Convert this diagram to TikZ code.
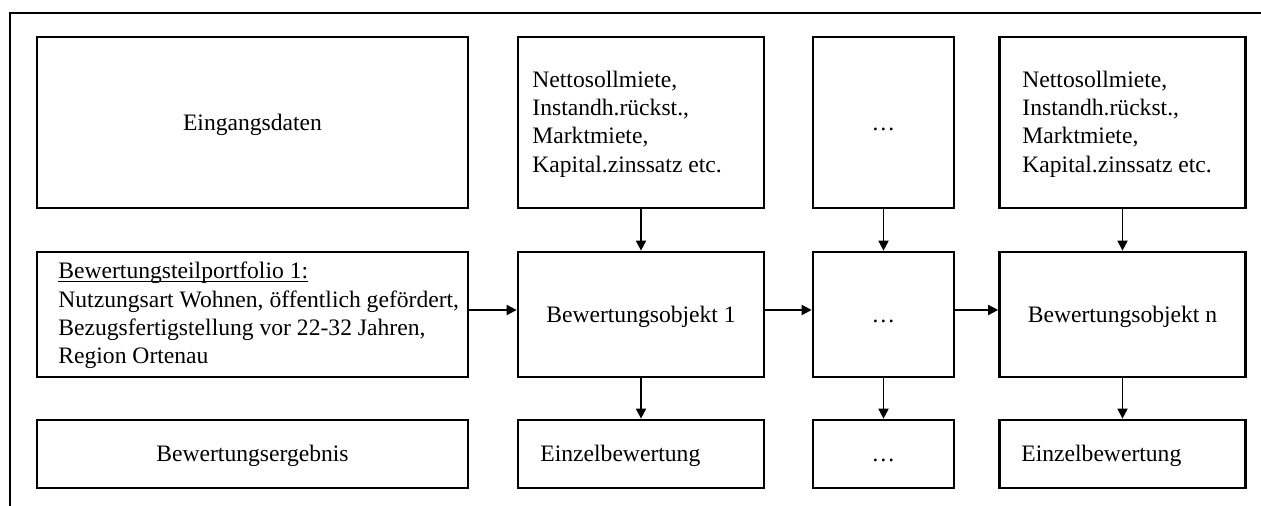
\documentclass[tikz,border=0pt]{standalone}
\usepackage{fontspec}
\setmainfont{Liberation Serif}
\usetikzlibrary{arrows.meta}
% underline that runs close under the baseline, through the descenders
\newcommand\ulword[1]{\setbox0\hbox{#1}\rlap{\rule[-1.6pt]{\wd0}{0.6pt}}\box0}
\begin{document}
\begin{tikzpicture}[x=0.5pt,y=-0.5pt,
  font=\fontsize{11.8pt}{14.15pt}\selectfont,
  box/.style={draw, line width=1.35pt, rectangle, inner sep=0pt,
              text height=10.4pt, text depth=2.6pt},
  toprow/.style={box, minimum height=85.5pt},
  midrow/.style={box, minimum height=62.5pt},
  botrow/.style={box, minimum height=34pt},
  widecol/.style={minimum width=215.5pt},
  objcol/.style={minimum width=123pt},
  dotcol/.style={minimum width=70.5pt},
  txt/.style={anchor=west, align=left, inner sep=0pt},
  txtline/.style={anchor=west, inner sep=0pt, text height=10.4pt, text depth=2.6pt},
  conn/.style={line width=0.9pt, -{Triangle[length=5pt,width=5pt]}}]
\useasboundingbox (0,0) rectangle (1261,506);

% frame (top and left edges)
\draw[line width=1.35pt] (10,510) |- (1265,13);

% input row
\node[toprow, widecol] (a1) at (252.5,122.5) {Eingangsdaten};
\node[toprow, objcol]  (b1) at (641,122.5) {};
\node[txt] (b1t) at (532,124) {Nettosollmiete,\\Instandh.rückst.,\\Marktmiete,\\Kapital.zinssatz etc.};
\node[toprow, dotcol]  (c1) at (883.5,122.5) {…};
\node[toprow, objcol]  (d1) at (1122.5,122.5) {};
\node[txt] (d1t) at (1022,124) {Nettosollmiete,\\Instandh.rückst.,\\Marktmiete,\\Kapital.zinssatz etc.};

% valuation objects
\node[midrow, widecol] (a2) at (252.5,314.5) {};
\node[txt] (a2t) at (58,315.5) {\ulword{Bewertungsteilportfolio 1:}\\Nutzungsart Wohnen, öffentlich gefördert,\\Bezugsfertigstellung vor 22-32 Jahren,\\Region Ortenau};
\node[midrow, objcol] (b2) at (641,314.5) {Bewertungsobjekt 1};
\node[midrow, dotcol] (c2) at (883.5,314.5) {…};
\node[midrow, objcol] (d2) at (1122.5,314.5) {Bewertungsobjekt n};

% results
\node[botrow, widecol] (a3) at (252.5,454) {Bewertungsergebnis};
\node[botrow, objcol]  (b3) at (641,454) {};
\node[txtline] (b3t) at (540,454) {Einzelbewertung};
\node[botrow, dotcol]  (c3) at (883.5,454) {…};
\node[botrow, objcol]  (d3) at (1122.5,454) {};
\node[txtline] (d3t) at (1021,454) {Einzelbewertung};

% vertical flow
\foreach \col in {b,c,d}{
  \draw[conn] (\col1.south) -- (\col2.north);
  \draw[conn] (\col2.south) -- (\col3.north);
}
% horizontal flow
\draw[conn] ([yshift=2.25pt]a2.east) -- ([yshift=2.25pt]b2.west);
\draw[conn] ([yshift=2.25pt]b2.east) -- ([yshift=2.25pt]c2.west);
\draw[conn] ([yshift=2.25pt]c2.east) -- ([yshift=2.25pt]d2.west);
\end{tikzpicture}
\end{document}
